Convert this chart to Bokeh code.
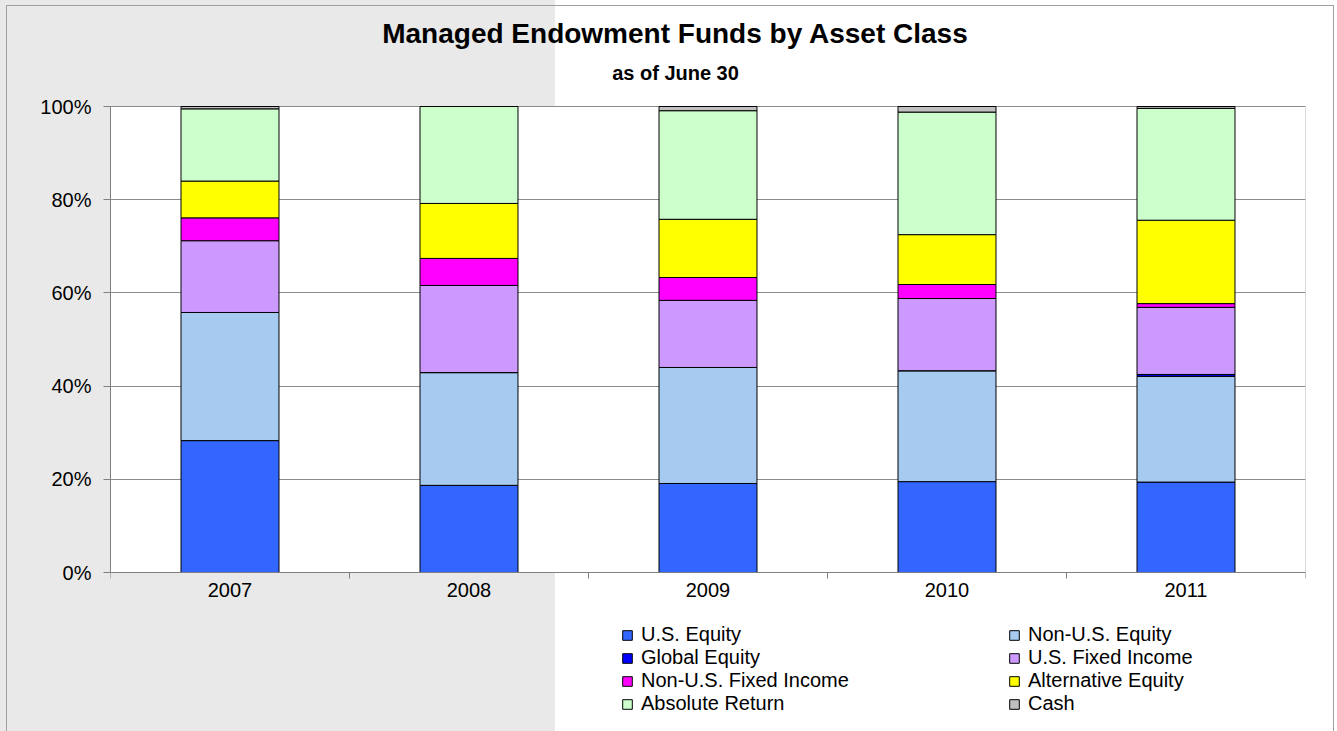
from bokeh.plotting import figure
from bokeh.models import (ColumnDataSource, Legend, LegendItem, FixedTicker, BoxAnnotation,
                          PrintfTickFormatter, Range1d, Label, GlobalInlineStyleSheet)
from bokeh.embed import file_html
from bokeh.resources import INLINE

# ---------------- data (percent of portfolio) ----------------
years = ["2007", "2008", "2009", "2010", "2011"]
series_names = ["U.S. Equity", "Non-U.S. Equity", "Global Equity", "U.S. Fixed Income",
                "Non-U.S. Fixed Income", "Alternative Equity", "Absolute Return", "Cash"]
us_equity = [28.3, 18.7, 19.1, 19.5, 19.4]
non_us_equity = [27.5, 24.2, 24.9, 23.8, 22.7]
global_equity = [0.0, 0.0, 0.0, 0.0, 0.4]
us_fixed_income = [15.4, 18.7, 14.4, 15.5, 14.4]
non_us_fixed_income = [4.9, 5.8, 4.9, 3.0, 0.8]
alternative_equity = [7.9, 11.8, 12.5, 10.7, 17.9]
absolute_return = [15.5, 20.8, 23.3, 26.3, 24.0]
cash = [0.5, 0.0, 0.9, 1.2, 0.4]
y_ticks = [0, 20, 40, 60, 80, 100]

colors = ["#3366FF", "#A6CAF0", "#0000FF", "#CC99FF", "#FF00FF", "#FFFF00", "#CCFFCC", "#C0C0C0"]
keys = ["us_eq", "nonus_eq", "glob_eq", "us_fi", "nonus_fi", "alt_eq", "abs_ret", "cash"]
series = [us_equity, non_us_equity, global_equity, us_fixed_income,
          non_us_fixed_income, alternative_equity, absolute_return, cash]

xpos = [i + 0.5 for i in range(len(years))]
data = {"x": xpos}
for k, s in zip(keys, series):
    data[k] = s
source = ColumnDataSource(data)

FONT = "Liberation Sans"

# ---------------- layout (pixels) ----------------
W, H = 1337, 731
PLOT_LEFT, PLOT_RIGHT = 110, 1305      # 0..5 categories
PLOT_TOP, PLOT_ZERO = 106, 572         # 100% .. 0%
FRAME_TOP, FRAME_BOTTOM = 2, H
px_per_unit = (PLOT_ZERO - PLOT_TOP) / 100.0


def py(pix):
    """screen y (pixels from top) -> data y"""
    return (PLOT_ZERO - pix) / px_per_unit


page_css = GlobalInlineStyleSheet(css="""
html {
  background:
    linear-gradient(#A0A0A0, #A0A0A0) 6px 5px / 1px 100% no-repeat,
    linear-gradient(#A0A0A0, #A0A0A0) 6px 5px / 1328px 1px no-repeat,
    linear-gradient(#A0A0A0, #A0A0A0) 1333px 5px / 1px 100% no-repeat,
    linear-gradient(to right, #E9E9E9 555px, #FFFFFF 555px) !important;
}
body { background: transparent !important; }
""")

p = figure(width=W, height=H, output_backend="svg", toolbar_location=None,
           x_range=Range1d(0, len(years)), y_range=Range1d(py(FRAME_BOTTOM), py(FRAME_TOP)),
           min_border_left=PLOT_LEFT, min_border_right=W - PLOT_RIGHT,
           min_border_top=FRAME_TOP, min_border_bottom=H - FRAME_BOTTOM,
           stylesheets=[page_css])
p.border_fill_color = None
p.background_fill_color = None
p.outline_line_color = None

# white plot area with dark border
p.add_layout(BoxAnnotation(left=0, right=len(years), bottom=0, top=100, fill_color="white",
                           fill_alpha=1, line_color="black", line_width=1, level="image"))

renderers = p.vbar_stack(keys, x="x", width=0.41, source=source, fill_color=colors,
                         line_color="black", line_width=1)

# y axis
p.yaxis.ticker = FixedTicker(ticks=y_ticks)
p.yaxis.formatter = PrintfTickFormatter(format="%d%%")
p.yaxis.bounds = (0, 100)
p.yaxis.major_tick_out = 7
p.yaxis.major_tick_in = 0
p.yaxis.minor_tick_line_color = None
p.yaxis.axis_line_color = "#808080"
p.yaxis.major_tick_line_color = "#808080"
p.yaxis.major_label_text_font = FONT
p.yaxis.major_label_text_font_size = "20px"
p.yaxis.major_label_text_color = "black"
p.yaxis.major_label_standoff = 12

# x axis at 0%: labels at centres, ticks at category boundaries
p.xaxis.fixed_location = 0
p.xaxis.ticker = FixedTicker(ticks=xpos, minor_ticks=list(range(len(years) + 1)))
p.xaxis.major_label_overrides = {x: y for x, y in zip(xpos, years)}
p.xaxis.major_tick_out = 0
p.xaxis.major_tick_in = 0
p.xaxis.minor_tick_out = 6
p.xaxis.minor_tick_in = 0
p.xaxis.minor_tick_line_color = "#808080"
p.xaxis.axis_line_color = "#808080"
p.xaxis.axis_line_width = 1
p.xaxis.major_label_text_font = FONT
p.xaxis.major_label_text_font_size = "20px"
p.xaxis.major_label_text_color = "black"
p.xaxis.major_label_standoff = 4

p.xgrid.grid_line_color = None
p.ygrid.ticker = FixedTicker(ticks=y_ticks)
p.ygrid.grid_line_color = "#8C8C8C"
p.ygrid.grid_line_width = 1

# titles
title_x = (675 - PLOT_LEFT) / (PLOT_RIGHT - PLOT_LEFT) * len(years)
p.add_layout(Label(x=title_x, y=py(33), text="Managed Endowment Funds by Asset Class",
                   text_font=FONT, text_font_size="28px", text_font_style="bold",
                   text_align="center", text_baseline="middle", text_color="black"))
p.add_layout(Label(x=title_x, y=py(72), text="as of June 30",
                   text_font=FONT, text_font_size="20px", text_font_style="bold",
                   text_align="center", text_baseline="middle", text_color="black"))

# legend: two columns, row-major
items = [LegendItem(label=n, renderers=[r]) for n, r in zip(series_names, renderers)]
lg = Legend(items=items, location=(621 - PLOT_LEFT, FRAME_BOTTOM - 715),
            orientation="horizontal", ncols=2,
            label_text_font=FONT, label_text_font_size="20px", label_text_color="black",
            glyph_width=12, glyph_height=12, label_height=22, label_width=367,
            label_standoff=8, spacing=0, padding=0, margin=0, border_line_color=None,
            background_fill_color=None)
p.add_layout(lg, "center")

open("out.html", "w").write(file_html(p, INLINE))
